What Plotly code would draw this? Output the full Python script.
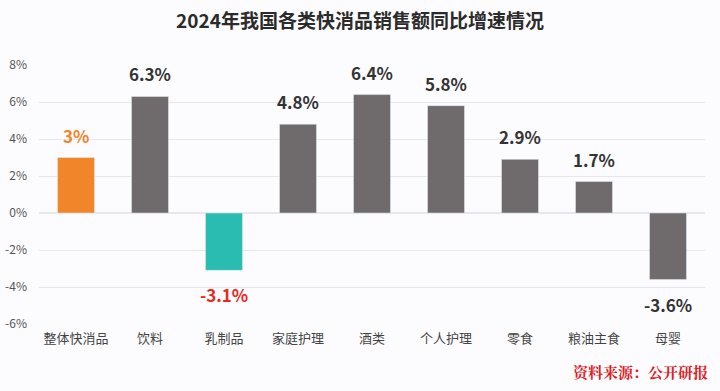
import plotly.graph_objects as go

categories = ["整体快消品", "饮料", "乳制品", "家庭护理", "酒类", "个人护理", "零食", "粮油主食", "母婴"]
values = [3.0, 6.3, -3.1, 4.8, 6.4, 5.8, 2.9, 1.7, -3.6]
labels = ["3%", "6.3%", "-3.1%", "4.8%", "6.4%", "5.8%", "2.9%", "1.7%", "-3.6%"]
bar_colors = ["#f0852a", "#6f6b6c", "#2bbcb1", "#6f6b6c", "#6f6b6c", "#6f6b6c", "#6f6b6c", "#6f6b6c", "#6f6b6c"]
label_colors = ["#f0852a", "#333333", "#e8281e", "#333333", "#333333", "#333333", "#333333", "#333333", "#333333"]
tick_vals = [-6, -4, -2, 0, 2, 4, 6, 8]
tick_text = ["-6%", "-4%", "-2%", "0%", "2%", "4%", "6%", "8%"]

font_family = "Noto Sans CJK SC, Noto Sans, sans-serif"

fig = go.Figure(go.Bar(
    x=categories, y=values, marker_color=bar_colors, width=0.5,
    hoverinfo="skip",
))

annotations = []
for c, v, t, col in zip(categories, values, labels, label_colors):
    annotations.append(dict(
        x=c, y=v, text="<b>%s</b>" % t, showarrow=False,
        yanchor="bottom" if v >= 0 else "top",
        yshift=8 if v >= 0 else -10,
        font=dict(size=17, color=col, family=font_family),
    ))
annotations.append(dict(
    x=1.008, xref="paper", xanchor="right", y=-0.185, yref="paper", yanchor="middle",
    text="<b>资料来源：公开研报</b>", showarrow=False,
    font=dict(size=15, color="#e0201e", family="Noto Serif CJK SC, " + font_family),
))

fig.update_layout(
    width=720, height=391,
    margin=dict(l=39, r=15, t=65, b=67),
    paper_bgcolor="#fcfcfe", plot_bgcolor="#fcfcfe",
    title=dict(text="<b>2024年我国各类快消品销售额同比增速情况</b>", x=0.5, xanchor="center",
               y=0.945, yanchor="middle",
               font=dict(size=19, color="#2b2b2b", family=font_family)),
    showlegend=False,
    bargap=0.5,
    annotations=annotations,
    xaxis=dict(tickfont=dict(size=13, color="#444444", family=font_family),
               showgrid=False, ticks="", showline=False, ticklabelstandoff=5,
               automargin=False),
    yaxis=dict(range=[-6, 8], tickvals=tick_vals, ticktext=tick_text,
               tickfont=dict(size=12, color="#555555", family=font_family),
               showgrid=True, gridcolor="#e6e8f0", gridwidth=1,
               zeroline=True, zerolinecolor="#e6e8f0", zerolinewidth=1.5,
               ticklabelstandoff=11, automargin=False),
)

fig.write_html("out.html", config={"displayModeBar": False},
               post_script="document.body.style.margin='0';document.body.style.background='#fcfcfe';")
